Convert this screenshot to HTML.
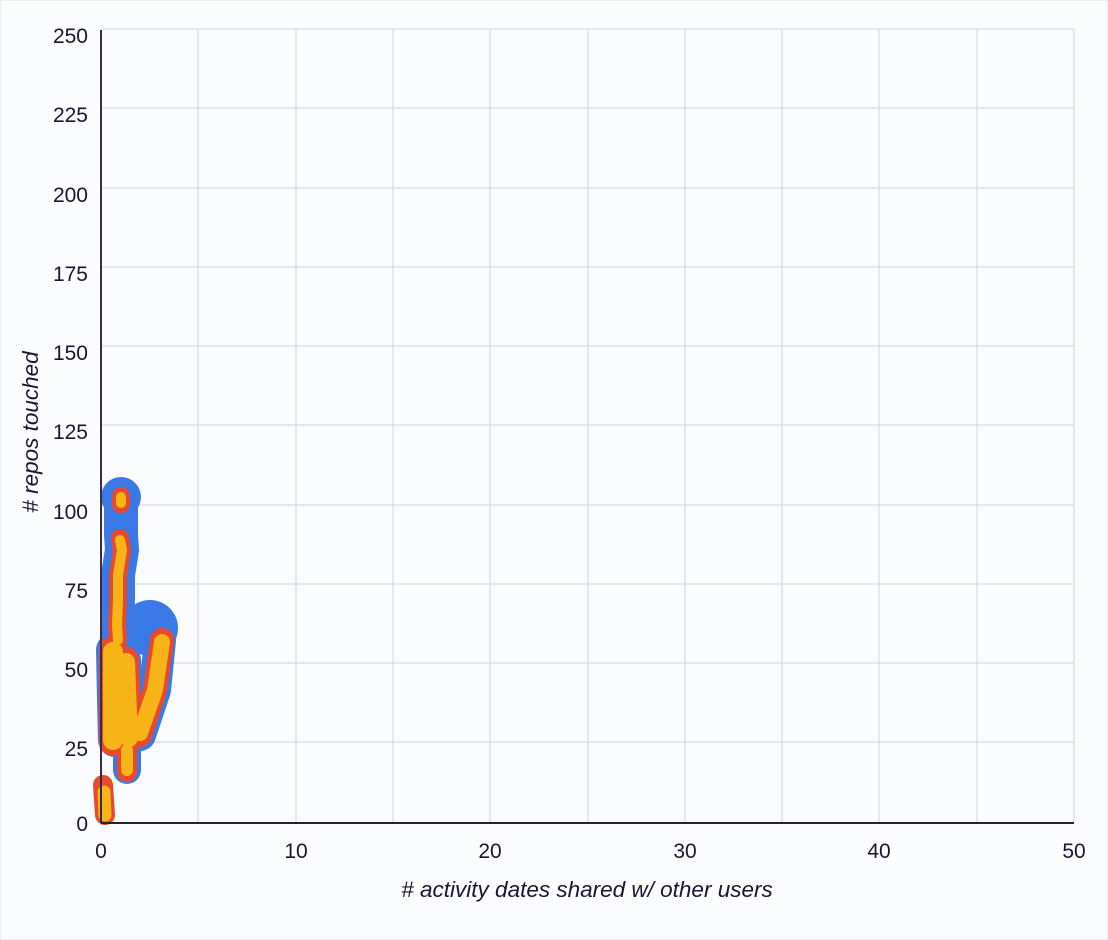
<!DOCTYPE html>
<html><head><style>
html,body{margin:0;padding:0;background:#fbfcfe;}
svg{display:block;font-family:"Liberation Sans",sans-serif;}
</style></head><body>
<svg width="1108" height="940" viewBox="0 0 1108 940">
<rect x="0" y="0" width="1108" height="940" fill="#fbfcfe"/>
<rect x="0.5" y="0.5" width="1107" height="939" fill="none" stroke="#eceef2"/>
<g stroke="#cfd3db" stroke-width="1">
<line x1="198" y1="29" x2="198" y2="822"/><line x1="296" y1="29" x2="296" y2="822"/>
<line x1="393" y1="29" x2="393" y2="822"/><line x1="490" y1="29" x2="490" y2="822"/>
<line x1="588" y1="29" x2="588" y2="822"/><line x1="685" y1="29" x2="685" y2="822"/>
<line x1="782" y1="29" x2="782" y2="822"/><line x1="879" y1="29" x2="879" y2="822"/>
<line x1="977" y1="29" x2="977" y2="822"/><line x1="1074" y1="29" x2="1074" y2="822"/>
<line x1="101" y1="29" x2="1074" y2="29"/><line x1="101" y1="108" x2="1074" y2="108"/>
<line x1="101" y1="188" x2="1074" y2="188"/><line x1="101" y1="267" x2="1074" y2="267"/>
<line x1="101" y1="346" x2="1074" y2="346"/><line x1="101" y1="425" x2="1074" y2="425"/>
<line x1="101" y1="505" x2="1074" y2="505"/><line x1="101" y1="584" x2="1074" y2="584"/>
<line x1="101" y1="663" x2="1074" y2="663"/><line x1="101" y1="742" x2="1074" y2="742"/>
</g>
<!-- blue layer -->
<g fill="none" stroke="#3b7ae6" stroke-linecap="round" stroke-linejoin="round">
<circle cx="121" cy="497" r="20" fill="#3b7ae6" stroke="none"/>
<circle cx="150" cy="628" r="28" fill="#3b7ae6" stroke="none"/>
<polyline points="121,500 121,535 122,550 118,575 118,600 117,625 118,640" stroke-width="34"/>
<polyline points="113,650 114,700 115,740" stroke-width="34"/>
<polyline points="125,660 128,740" stroke-width="32"/>
<polyline points="160,640 155,690 140,735" stroke-width="32"/>
<polyline points="127,745 127,770" stroke-width="28"/>
</g>
<!-- red layer -->
<g fill="none" stroke="#ea4a2c" stroke-linecap="round" stroke-linejoin="round">
<polyline points="121,496 121,504" stroke-width="18"/>
<polyline points="120,538 122,550 118,575 118,600 117,625 118,640" stroke-width="18"/>
<polyline points="113,650 113,700 113,742" stroke-width="28"/>
<polyline points="126,660 129,740" stroke-width="26"/>
<polyline points="162,640 155,690 140,735" stroke-width="24"/>
<polyline points="127,748 127,772" stroke-width="20"/>
<polyline points="103,785 105,815" stroke-width="20"/>
</g>
<!-- yellow layer -->
<g fill="none" stroke="#f7b416" stroke-linecap="round" stroke-linejoin="round">
<polyline points="121,497 121,503" stroke-width="10"/>
<polyline points="120,540 122,550 118,575 118,600 117,625 118,640" stroke-width="10"/>
<polyline points="113,652 113,700 113,740" stroke-width="20"/>
<polyline points="126,662 129,738" stroke-width="18"/>
<polyline points="162,642 155,690 140,733" stroke-width="16"/>
<polyline points="127,750 127,770" stroke-width="12"/>
<polyline points="104,792 105,815" stroke-width="13"/>
</g>
<line x1="101" y1="30" x2="101" y2="823" stroke="#3a2a4a" stroke-width="2"/>
<line x1="101" y1="823" x2="1074" y2="823" stroke="#2a2233" stroke-width="2"/>
<g font-size="21" fill="#1c1530" text-anchor="end">
<text x="88" y="43">250</text><text x="88" y="122">225</text><text x="88" y="202">200</text>
<text x="88" y="281">175</text><text x="88" y="360">150</text><text x="88" y="439">125</text>
<text x="88" y="519">100</text><text x="88" y="598">75</text><text x="88" y="677">50</text>
<text x="88" y="756">25</text><text x="88" y="831">0</text>
</g>
<g font-size="21" fill="#1c1530" text-anchor="middle">
<text x="101" y="858">0</text><text x="296" y="858">10</text><text x="490" y="858">20</text>
<text x="685" y="858">30</text><text x="879" y="858">40</text><text x="1074" y="858">50</text>
</g>
<text x="587" y="897" font-size="22.5" font-style="italic" fill="#1c1530" text-anchor="middle"># activity dates shared w/ other users</text>
<text transform="translate(38,432) rotate(-90)" font-size="22.5" font-style="italic" fill="#1c1530" text-anchor="middle"># repos touched</text>
</svg>
</body></html>
